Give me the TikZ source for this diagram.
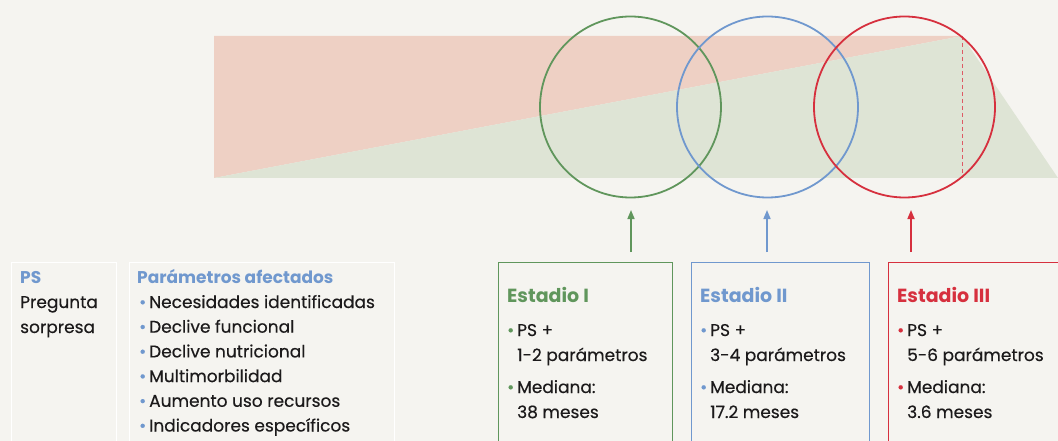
\documentclass[tikz,border=0pt]{standalone}
\usepackage{fontspec}
\setmainfont{Poppins}
\newfontfamily\bodyfont{Poppins}[FakeBold=0.4]
\usetikzlibrary{arrows.meta,positioning}

\definecolor{paper}{RGB}{245,244,240}
\definecolor{stgreen}{RGB}{96,150,92}
\definecolor{stblue}{RGB}{112,152,206}
\definecolor{stred}{RGB}{214,48,62}
\definecolor{riskpink}{RGB}{238,208,196}
\definecolor{riskgreen}{RGB}{222,228,213}
\definecolor{ink}{RGB}{28,26,27}

\newcommand{\dotb}[1]{\makebox[10pt][l]{\textcolor{#1}{\fontsize{17}{17}\selectfont\textbullet}}}
\newcommand{\indb}{\hspace*{10pt}}

\tikzset{
  ring/.style={circle,draw=#1,line width=1.8pt,minimum size=181pt,inner sep=0pt},
  stagebox/.style={draw=#1,line width=1.5pt,anchor=north west,minimum height=200pt,inner sep=0pt},
  notebox/.style={draw=white,line width=1.5pt,anchor=north west,minimum height=200pt,inner sep=0pt},
  txt/.style={anchor=base west,inner sep=0pt,text=ink,font=\bodyfont\fontsize{17}{25}\selectfont},
  subhead/.style={txt,text=#1,font=\fontsize{17}{25}\selectfont\bfseries},
  stagehead/.style={txt,text=#1,font=\fontsize{19}{25}\selectfont\bfseries},
  uparrow/.style={draw=#1,line width=1.6pt,-{Triangle[length=9pt,width=7pt]}}
}

\begin{document}
\begin{tikzpicture}[x=1pt,y=-1pt]
\useasboundingbox (0,0) rectangle (1058,441);
\fill [paper] (0,0) rectangle (1058,441);
% risk band
\fill [riskpink] (214,36) -- (962,36) -- (214,178) -- cycle;
\fill [riskgreen] (214,178) -- (962,36) -- (1058,178) -- cycle;
\draw [stred!80,line width=0.8pt,dash pattern=on 4pt off 3pt] (962,36) -- (962,178);
% stage rings
\node[ring=stgreen] (ringI) at (630.5,107) {};
\node[ring=stblue] (ringII) at (767.5,107) {};
\node[ring=stred] (ringIII) at (904.5,107) {};
% boxes
\node[notebox,minimum width=105pt] (psBox) at (10.5,261.5) {};
\node[notebox,minimum width=265pt] (parBox) at (128.5,261.5) {};
\node[stagebox=stgreen,minimum width=174pt] (boxI) at (497.5,261.5) {};
\node[stagebox=stblue,minimum width=178pt] (boxII) at (690.5,261.5) {};
\node[stagebox=stred,minimum width=183pt] (boxIII) at (887.5,261.5) {};
% arrows
\coordinate (footI) at (631,252);
\coordinate (tipI) at (631,210);
\coordinate (footII) at (767,252);
\coordinate (tipII) at (767,210);
\coordinate (footIII) at (911,252);
\coordinate (tipIII) at (911,210);
\draw[uparrow=stgreen] (footI) -- (tipI);
\draw[uparrow=stblue] (footII) -- (tipII);
\draw[uparrow=stred] (footIII) -- (tipIII);
% left notes
\node[subhead=stblue] (psHead) at (20,283) {PS};
\node[txt] (psL1) at (20,308) {Pregunta};
\node[txt] (psL2) at (20,333) {sorpresa};
\node[subhead=stblue] (parHead) at (137,283) {Parámetros afectados};
\node[txt] (parL1) at (139,308) {\dotb{stblue}Necesidades identificadas};
\node[txt] (parL2) at (139,332.7) {\dotb{stblue}Declive funcional};
\node[txt] (parL3) at (139,357.4) {\dotb{stblue}Declive nutricional};
\node[txt] (parL4) at (139,382.1) {\dotb{stblue}Multimorbilidad};
\node[txt] (parL5) at (139,406.8) {\dotb{stblue}Aumento uso recursos};
\node[txt] (parL6) at (139,431.5) {\dotb{stblue}Indicadores específicos};
% stage I
\node[stagehead=stgreen] (headI) at (507,302) {Estadio I};
\node[txt] (textIa) at (507,336) {\dotb{stgreen}PS +};
\node[txt] (textIb) at (507,361) {\indb 1-2 parámetros};
\node[txt] (textIc) at (507,393) {\dotb{stgreen}Mediana:};
\node[txt] (textId) at (507,418) {\indb 38 meses};
% stage II
\node[stagehead=stblue] (headII) at (700,302) {Estadio II};
\node[txt] (textIIa) at (700,336) {\dotb{stblue}PS +};
\node[txt] (textIIb) at (700,361) {\indb 3-4 parámetros};
\node[txt] (textIIc) at (700,393) {\dotb{stblue}Mediana:};
\node[txt] (textIId) at (700,418) {\indb 17.2 meses};
% stage III
\node[stagehead=stred] (headIII) at (897,302) {Estadio III};
\node[txt] (textIIIa) at (897,336) {\dotb{stred}PS +};
\node[txt] (textIIIb) at (897,361) {\indb 5-6 parámetros};
\node[txt] (textIIIc) at (897,393) {\dotb{stred}Mediana:};
\node[txt] (textIIId) at (897,418) {\indb 3.6 meses};
\end{tikzpicture}
\end{document}
